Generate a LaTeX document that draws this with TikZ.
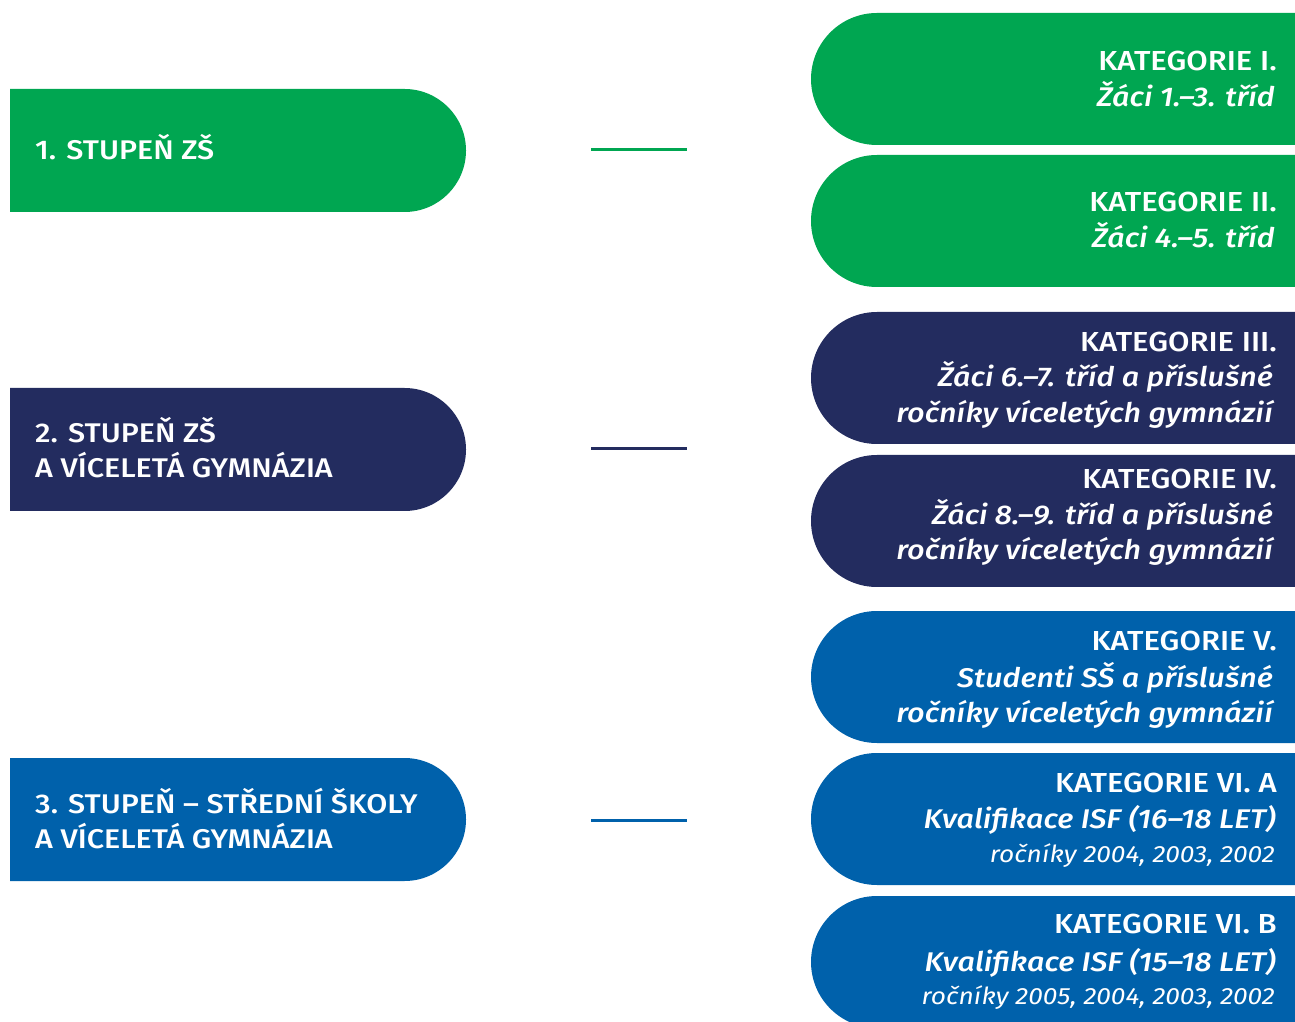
\documentclass[tikz,border=0pt]{standalone}
\usepackage{fontspec}
\setmainfont{Fira Sans}[UprightFont={* Medium}, ItalicFont={* Medium Italic}, FakeStretch=1.13]
\newfontfamily\lightfnt{Fira Sans}[FakeStretch=1.12]
\definecolor{cgreen}{HTML}{00A651}
\definecolor{cnavy}{HTML}{232C5F}
\definecolor{cblue}{HTML}{0061AB}
\begin{document}
\begin{tikzpicture}[x=1pt,y=1pt,
  lefttxt/.style={text=white,inner sep=0pt,anchor=base west,font=\fontsize{27}{30}\selectfont},
  cattxt/.style={text=white,inner sep=0pt,anchor=base east,font=\fontsize{27.5}{30}\selectfont},
  subtxt/.style={text=white,inner sep=0pt,anchor=base east,font=\fontsize{27}{30}\selectfont\itshape},
  smalltxt/.style={text=white,inner sep=0pt,anchor=base east,font=\lightfnt\fontsize{23.5}{26}\selectfont\itshape},
  conn/.style={line width=3pt}]
\useasboundingbox (0,0) rectangle (1295,1021);
\clip (0,0) rectangle (1295,1021);
% left boxes
\fill[cgreen] (10,809) -- (404.5,809) arc[start angle=-90,end angle=90,radius=61.5] -- (10,932) -- cycle;
\fill[cnavy] (10,510) -- (404.5,510) arc[start angle=-90,end angle=90,radius=61.5] -- (10,633) -- cycle;
\fill[cblue] (10,140) -- (404.5,140) arc[start angle=-90,end angle=90,radius=61.5] -- (10,263) -- cycle;
% right boxes
\fill[cgreen] (1300,1008) -- (877,1008) arc[start angle=90,end angle=270,radius=66] -- (1300,876) -- cycle;
\fill[cgreen] (1300,866) -- (877,866) arc[start angle=90,end angle=270,radius=66] -- (1300,734) -- cycle;
\fill[cnavy] (1300,709) -- (877,709) arc[start angle=90,end angle=270,radius=66] -- (1300,577) -- cycle;
\fill[cnavy] (1300,566) -- (877,566) arc[start angle=90,end angle=270,radius=66] -- (1300,434) -- cycle;
\fill[cblue] (1300,410) -- (877,410) arc[start angle=90,end angle=270,radius=66] -- (1300,278) -- cycle;
\fill[cblue] (1300,268) -- (877,268) arc[start angle=90,end angle=270,radius=66] -- (1300,136) -- cycle;
\fill[cblue] (1300,125) -- (877,125) arc[start angle=90,end angle=270,radius=66] -- (1300,-7) -- cycle;
% left texts
\node[lefttxt] (s1) at (35,861) {1. STUPEŇ ZŠ};
\node[lefttxt] (s2a) at (35,578) {2. STUPEŇ ZŠ};
\node[lefttxt] (s2b) at (35,543) {A VÍCELETÁ GYMNÁZIA};
\node[lefttxt] (s3a) at (35,208) {3. STUPEŇ – STŘEDNÍ ŠKOLY};
\node[lefttxt] (s3b) at (35,173) {A VÍCELETÁ GYMNÁZIA};
% connectors
\coordinate (g1) at (591,871); \coordinate (g2) at (687,871);
\coordinate (n1) at (591,572); \coordinate (n2) at (687,572);
\coordinate (b1) at (591,201); \coordinate (b2) at (687,201);
\draw[conn,cgreen] (g1) -- (g2);
\draw[conn,cnavy] (n1) -- (n2);
\draw[conn,cblue] (b1) -- (b2);
% right texts
\node[cattxt] (k1) at (1277,950) {KATEGORIE I.};
\node[subtxt] (k1s) at (1275,914) {Žáci 1.–3. tříd};
\node[cattxt] (k2) at (1277,809) {KATEGORIE II.};
\node[subtxt] (k2s) at (1275,773) {Žáci 4.–5. tříd};
\node[cattxt] (k3) at (1277,669) {KATEGORIE III.};
\node[subtxt] (k3s) at (1273,634) {Žáci 6.–7. tříd a příslušné};
\node[subtxt] (k3t) at (1273,598) {ročníky víceletých gymnázií};
\node[cattxt] (k4) at (1277,532) {KATEGORIE IV.};
\node[subtxt] (k4s) at (1273,496) {Žáci 8.–9. tříd a příslušné};
\node[subtxt] (k4t) at (1273,461) {ročníky víceletých gymnázií};
\node[cattxt] (k5) at (1277,371) {KATEGORIE V.};
\node[subtxt] (k5s) at (1273,334) {Studenti SŠ a příslušné};
\node[subtxt] (k5t) at (1273,299) {ročníky víceletých gymnázií};
\node[cattxt] (k6) at (1277,229) {KATEGORIE VI. A};
\node[subtxt] (k6s) at (1276,193) {Kvalifikace ISF (16–18 LET)};
\node[smalltxt] (k6t) at (1275,159) {ročníky 2004, 2003, 2002};
\node[cattxt] (k7) at (1277,88) {KATEGORIE VI. B};
\node[subtxt] (k7s) at (1276,50) {Kvalifikace ISF (15–18 LET)};
\node[smalltxt] (k7t) at (1275,17) {ročníky 2005, 2004, 2003, 2002};
\end{tikzpicture}
\end{document}
